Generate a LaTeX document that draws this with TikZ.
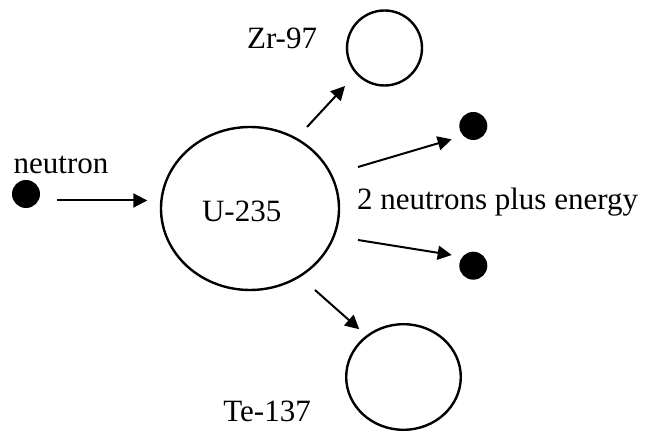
\documentclass[tikz,border=0pt]{standalone}
\usepackage{fontspec}
\setmainfont{Liberation Serif}
\usetikzlibrary{shapes.geometric,arrows.meta,calc}
\begin{document}
\begin{tikzpicture}[x=0.5pt,y=-0.5pt,
  nucleus/.style={draw,ellipse,line width=1.2pt,inner sep=0pt},
  particle/.style={circle,fill=black,inner sep=0pt,minimum size=14pt},
  arr/.style={line width=1pt,-{Triangle[length=7pt,width=7pt]}},
  lbl/.style={inner sep=0pt,anchor=base west,font=\fontsize{15.5pt}{18pt}\selectfont}]
\useasboundingbox (0,0) rectangle (649,432);
% particles and nuclei
\node[particle] (nIn) at (26,194) {};
\node[nucleus,minimum width=89pt,minimum height=81.5pt] (U) at (250,208.5) {};
\node[nucleus,minimum width=37.5pt,minimum height=37.5pt] (Zr) at (384.5,48) {};
\node[nucleus,minimum width=57.3pt,minimum height=52.8pt] (Te) at (403.5,377) {};
\node[particle] (d1) at (473.3,126) {};
\node[particle] (d2) at (473.3,265.7) {};
% labels
\node[lbl] (tn) at (13.3,173.3) {neutron};
\node[lbl] (tu) at (201.7,221.7) {U-235};
\node[lbl] (tz) at (246.7,48.3) {Zr-97};
\node[lbl] (te) at (356.7,210) {2 neutrons plus energy};
\node[lbl] (tt) at (223,421.7) {Te-137};
% arrows
\draw[arr] ($(nIn)+(31,6.5)$) -- ($(U)+(-102.7,-8)$);
\draw[arr] ($(U)+(57,-81.5)$) -- ($(Zr)+(-39.5,38)$);
\draw[arr] ($(U)+(108,-41.5)$) -- ($(d1)+(-21.6,13.3)$);
\draw[arr] ($(U)+(108,31.5)$) -- ($(d2)+(-21.6,-10.7)$);
\draw[arr] ($(U)+(65,81.5)$) -- ($(Te)+(-44.2,-47.7)$);
\end{tikzpicture}
\end{document}
